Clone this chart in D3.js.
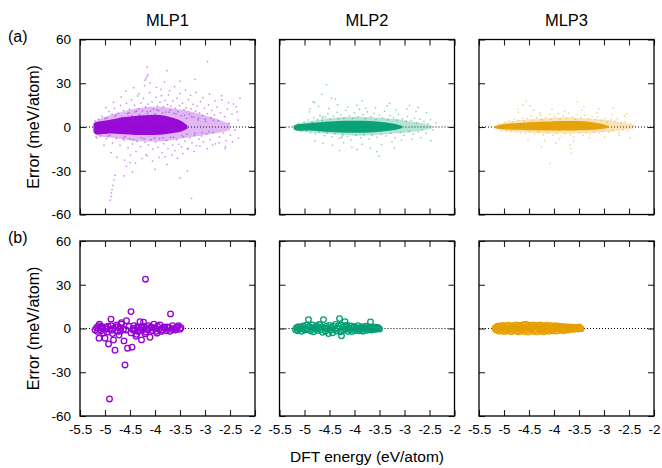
<!DOCTYPE html>
<html>
<head>
<meta charset="utf-8">
<script src="https://cdn.jsdelivr.net/npm/d3@7/dist/d3.min.js"></script>
<style>
  html, body { margin: 0; padding: 0; background: #fff; }
  svg { display: block; }
  text { font-family: "Liberation Sans", Arial, Helvetica, sans-serif; fill: #000; }
</style>
</head>
<body>
<svg id="chart" width="662" height="468"></svg>
<script>
// ---- data -------------------------------------------------------------
const models = ["MLP1", "MLP2", "MLP3"];
const colors = ["#9400D3", "#009E73", "#E69F00"];
const rowTags = ["(a)", "(b)"];
const xTicks = [-5.5, -5, -4.5, -4, -3.5, -3, -2.5, -2];
const yTicks = [-60, -30, 0, 30, 60];

// (a) training set: saturated core of the error cloud (energy, upper, lower)
const mlp1CoreE  = [-5.23, -5.2, -5.1, -4.95, -4.8, -4.6, -4.4, -4.2, -4.0, -3.8, -3.6, -3.45, -3.35];
const mlp1CoreHi = [2, 3.5, 4, 4.5, 5.5, 7, 7.5, 8, 8.5, 8, 6, 4, 1];
const mlp1CoreLo = [-3, -5.5, -5, -4.5, -4.5, -5, -5.5, -5.5, -5.5, -5, -4, -3, -1];
// (a) training set: medium-density halo around the core
const mlp1HaloE  = [-5.23, -5.1, -4.9, -4.7, -4.5, -4.3, -4.1, -3.9, -3.7, -3.5, -3.3, -3.1, -2.9, -2.7, -2.5];
const mlp1HaloHi = [3, 6, 8, 10, 12, 13, 14, 14, 13, 12, 11, 9, 7, 5, 2];
const mlp1HaloLo = [-4, -7, -7, -8, -9, -10, -10, -10, -9, -8, -7, -6, -5, -4, -2];

const mlp2CoreE  = [-5.22, -5.15, -5.05, -4.9, -4.75, -4.6, -4.4, -4.2, -4.0, -3.8, -3.6, -3.4, -3.2, -3.05];
const mlp2CoreHi = [0.8, 2.0, 2.3, 2.6, 3.0, 3.6, 4.0, 4.3, 4.4, 4.3, 4.0, 3.4, 2.4, 0.8];
const mlp2CoreLo = [-1.5, -2.8, -2.5, -2.4, -2.7, -3.2, -3.6, -3.9, -4.0, -3.9, -3.6, -3.0, -2.2, -0.8];
const mlp2HaloE  = [-5.2, -5.0, -4.8, -4.6, -4.4, -4.2, -4.0, -3.8, -3.6, -3.4, -3.2, -3.0, -2.8, -2.6, -2.45];
const mlp2HaloHi = [1, 3.5, 4.5, 5.5, 6.5, 7, 7, 7, 6.5, 6, 5.5, 4.5, 3.5, 2.5, 1];
const mlp2HaloLo = [-2, -3.5, -4, -4.5, -5, -5.5, -6, -6, -5.5, -5, -4.5, -4, -3, -2, -1];

const mlp3CoreE  = [-5.2, -5.1, -4.95, -4.8, -4.6, -4.4, -4.2, -4.0, -3.8, -3.6, -3.4, -3.2, -3.0, -2.9];
const mlp3CoreHi = [0.3, 1.5, 2.2, 2.6, 3.0, 3.4, 3.8, 4.0, 4.2, 4.2, 4.0, 3.2, 2.0, 0.5];
const mlp3CoreLo = [-0.5, -1.6, -1.8, -1.9, -2.0, -2.2, -2.4, -2.5, -2.5, -2.4, -2.3, -2.0, -1.2, -0.3];
const mlp3HaloE  = [-5.2, -5.0, -4.8, -4.6, -4.4, -4.2, -4.0, -3.8, -3.6, -3.4, -3.2, -3.0, -2.8, -2.6, -2.4];
const mlp3HaloHi = [0.5, 3, 4, 5, 5.5, 6, 6.5, 6.5, 6.5, 6, 5.5, 5, 4, 3, 1];
const mlp3HaloLo = [-1, -2.5, -3, -3.5, -4, -4.5, -4.5, -4.5, -4.5, -4, -4, -3.5, -3, -2, -1];

// (a) training set: individual points outside the core [energy, error]
const mlp1Dots = [
[-5.13,5.3],[-5.1,-6.2],[-5.06,7.4],[-4.97,-8.1],[-4.96,6.1],[-4.92,10.6],[-4.9,-5.7],[-4.86,8.8],[-4.85,-10.9],[-4.81,12.7],
[-4.8,7.2],[-4.77,-7.8],[-4.73,9.5],[-4.7,-12.6],[-4.69,14.8],[-4.66,6.9],[-4.63,11.3],[-4.62,-9.1],[-4.6,-6.6],[-4.57,16.2],
[-4.55,9.2],[-4.54,-14.3],[-4.51,12.1],[-4.5,-8.4],[-4.47,18.7],[-4.46,7.8],[-4.45,-11.7],[-4.41,14.9],[-4.4,10.4],[-4.38,-16.8],
[-4.36,-9.9],[-4.35,21.3],[-4.33,12.6],[-4.31,8.4],[-4.29,-13.5],[-4.28,16.4],[-4.27,-7.3],[-4.25,11.0],[-4.23,19.6],[-4.2,-10.6],
[-4.19,13.8],[-4.18,-18.9],[-4.15,9.1],[-4.14,15.7],[-4.13,-12.2],[-4.11,23.6],[-4.09,10.9],[-4.08,-8.7],[-4.06,17.2],[-4.04,-15.1],
[-4.03,12.3],[-4.0,8.8],[-3.99,-10.3],[-3.98,20.4],[-3.95,14.5],[-3.94,-13.9],[-3.93,11.2],[-3.91,-7.9],[-3.9,16.9],[-3.88,25.8],
[-3.86,-17.6],[-3.85,9.6],[-3.83,13.9],[-3.82,-11.5],[-3.8,18.3],[-3.79,10.2],[-3.77,-9.2],[-3.75,15.4],[-3.74,-14.8],[-3.73,22.1],
[-3.7,11.7],[-3.69,-7.1],[-3.68,14.1],[-3.65,-12.4],[-3.64,17.8],[-3.62,9.4],[-3.6,-16.2],[-3.59,12.9],[-3.57,-8.6],[-3.56,19.7],
[-3.54,10.5],[-3.52,-11.8],[-3.51,14.7],[-3.48,7.6],[-3.47,-13.6],[-3.45,16.3],[-3.43,-6.8],[-3.42,11.9],[-3.4,-9.7],[-3.38,13.2],
[-3.37,5.9],[-3.35,-15.3],[-3.33,18.8],[-3.31,8.7],[-3.3,-7.4],[-3.28,12.5],[-3.26,-10.9],[-3.24,15.6],[-3.23,6.7],[-3.21,-5.8],
[-3.19,10.8],[-3.17,-12.9],[-3.16,14.3],[-3.14,4.9],[-3.12,-8.3],[-3.11,9.7],[-3.09,17.4],[-3.07,-6.2],[-3.05,7.9],[-3.03,-10.1],
[-3.01,12.8],[-2.99,3.9],[-2.97,-4.7],[-2.95,9.1],[-2.93,15.2],[-2.9,-8.8],[-2.88,6.3],[-2.86,11.4],[-2.84,-3.6],[-2.81,8.2],
[-2.79,-11.6],[-2.76,13.7],[-2.74,4.4],[-2.71,-6.9],[-2.69,9.8],[-2.66,18.6],[-2.63,-4.2],[-2.61,7.1],[-2.58,-9.3],[-2.55,12.2],
[-2.52,2.6],[-2.49,-5.6],[-2.46,8.9],[-2.43,15.8],[-2.4,-2.1],[-2.36,10.3],[-2.33,-7.7],[-2.3,19.7],
[-5.02,-12.4],[-4.98,13.3],[-4.88,-17.6],[-4.83,16.9],[-4.76,-20.8],[-4.68,20.5],[-4.61,-22.7],[-4.58,24.6],[-4.49,-19.3],[-4.43,26.9],
[-4.39,-24.8],[-4.32,22.8],[-4.26,-21.6],[-4.21,28.3],[-4.16,-19.8],[-4.1,30.2],[-4.05,-23.4],[-3.97,27.1],[-3.92,-20.9],[-3.87,21.5],
[-3.81,30.8],[-3.76,-25.7],[-3.71,24.9],[-3.66,-19.1],[-3.61,27.6],[-3.55,-21.4],[-3.5,22.9],[-3.44,-18.2],[-3.39,25.3],[-3.34,-14.6],
[-3.29,21.8],[-3.22,-16.8],[-3.18,23.7],[-3.1,-13.2],[-3.04,20.1],[-2.96,-14.9],[-2.91,22.6],[-2.85,-12.3],[-2.8,17.9],[-2.72,-10.8],
[-2.67,21.4],[-2.59,-13.5],[-2.53,16.7],[-2.45,-10.2],[-2.38,13.9],[-2.34,4.8],
[-5.0,5.8],[-4.94,-6.3],[-4.78,8.6],[-4.64,-7.9],[-4.52,9.6],[-4.43,-8.8],[-4.37,10.9],[-4.22,-8.1],[-4.16,10.5],[-4.01,-7.7],
[-3.96,11.8],[-3.84,-7.4],[-3.72,10.1],[-3.63,-7.0],[-3.58,8.9],[-3.46,-5.9],[-3.41,8.1],[-3.36,-4.8],[-3.27,6.9],[-3.2,-4.4],
[-3.13,6.1],[-3.06,-3.8],[-3.0,5.4],[-2.92,-3.1],[-2.83,4.7],
[-4.18,33.2],[-4.16,34.6],[-4.14,35.8],[-4.2,32.1],[-4.16,41.0],[-3.76,38.6],[-2.95,44.8],[-3.5,31.4],[-3.2,32.6],[-4.45,-30.8],
[-4.9,-50.2],[-4.88,-47.6],[-4.87,-45.3],[-4.86,-42.9],[-4.84,-40.0],[-4.82,-36.4],[-4.8,-33.1],[-3.27,-49.0],[-3.5,-35.0],[-4.5,-24.4],
[-4.57,-27.0],[-3.8,-20.4],[-4.62,-33.5],[-3.35,-30.2],[-2.6,-14.8],[-4.0,-29.1],[-5.18,-6.6],[-5.16,-7.4],[-5.2,4.2]
];

const mlp2Dots = [
[-5.12,2.6],[-5.07,-3.1],[-5.01,3.5],[-4.96,-2.8],[-4.93,4.9],[-4.88,-3.9],[-4.85,3.2],[-4.81,6.3],[-4.78,-4.6],[-4.74,5.1],
[-4.71,-3.5],[-4.69,7.8],[-4.65,4.4],[-4.6,-5.9],[-4.58,6.7],[-4.55,-4.1],[-4.53,9.2],[-4.49,5.3],[-4.45,-6.8],[-4.42,7.4],
[-4.39,-4.7],[-4.35,10.1],[-4.33,5.6],[-4.3,-7.6],[-4.27,8.3],[-4.23,-5.2],[-4.21,6.1],[-4.17,11.4],[-4.14,-6.4],[-4.1,7.7],
[-4.07,-8.9],[-4.04,5.8],[-4.0,9.6],[-3.97,-5.5],[-3.93,6.9],[-3.9,12.2],[-3.88,-7.3],[-3.83,8.5],[-3.81,-5.1],[-3.78,5.7],
[-3.74,10.4],[-3.71,-8.1],[-3.67,7.1],[-3.65,-5.7],[-3.61,9.3],[-3.57,5.2],[-3.55,-7.0],[-3.5,8.0],[-3.47,-4.9],[-3.44,6.2],
[-3.4,10.8],[-3.37,-6.1],[-3.33,5.0],[-3.29,7.9],[-3.27,-4.3],[-3.22,6.4],[-3.19,-7.4],[-3.15,4.7],[-3.12,8.6],[-3.08,-3.7],
[-3.04,5.5],[-3.01,-5.6],[-2.97,3.9],[-2.94,7.2],[-2.9,-3.0],[-2.87,4.5],[-2.83,-4.9],[-2.8,6.1],[-2.76,2.8],[-2.72,-3.2],
[-2.69,5.3],[-2.65,-2.1],[-2.61,3.7],[-2.57,-4.4],[-2.53,2.3],[-2.48,4.9],[-2.43,-1.9],[-2.37,2.9],
[-4.89,12.4],[-4.79,-9.6],[-4.72,14.1],[-4.63,-11.2],[-4.51,12.7],[-4.44,-12.5],[-4.34,15.3],[-4.22,-10.7],[-4.13,13.6],[-4.05,-13.9],
[-3.95,14.8],[-3.85,-11.8],[-3.77,12.9],[-3.68,-14.6],[-3.58,13.2],[-3.46,-12.1],[-3.35,14.4],[-3.25,-10.3],[-3.17,11.7],[-3.06,-9.1],
[-2.95,12.5],[-2.85,-8.2],[-2.77,10.6],[-2.67,-7.3],[-2.56,9.8],[-2.47,-9.4],[-2.73,13.4],
[-4.56,29.0],[-4.83,17.3],[-4.8,16.8],[-4.46,19.7],[-4.38,19.2],[-4.65,22.4],[-3.51,-20.0],[-3.55,-16.9],[-3.95,-15.4],[-4.3,-16.1],
[-3.2,-14.3],[-4.9,10.4],[-3.85,17.9],[-3.3,16.2],[-2.9,14.7],[-4.26,-7.2],[-4.25,-6.1],[-4.64,6.1],[-4.63,7.0]
];

const mlp3Dots = [
[-5.11,2.2],[-5.05,-2.4],[-4.99,3.3],[-4.95,-2.7],[-4.9,4.1],[-4.86,-3.0],[-4.83,3.6],[-4.79,5.2],[-4.75,-3.4],[-4.72,4.6],
[-4.67,-3.9],[-4.63,6.1],[-4.6,3.9],[-4.57,-4.3],[-4.53,5.7],[-4.49,-3.6],[-4.46,7.3],[-4.43,4.5],[-4.39,-4.9],[-4.35,6.4],
[-4.31,-3.8],[-4.27,8.1],[-4.25,5.1],[-4.21,-5.4],[-4.17,6.7],[-4.13,-4.2],[-4.09,8.6],[-4.06,5.3],[-4.02,-5.8],[-3.99,7.2],
[-3.95,-4.5],[-3.91,9.1],[-3.88,5.6],[-3.85,-6.2],[-3.81,7.6],[-3.78,-4.8],[-3.75,6.1],[-3.71,9.4],[-3.67,-5.3],[-3.63,7.0],
[-3.6,-6.6],[-3.57,5.4],[-3.53,8.3],[-3.49,-4.4],[-3.46,6.6],[-3.42,-5.7],[-3.39,7.9],[-3.35,-3.9],[-3.31,5.8],[-3.28,-4.9],
[-3.24,7.2],[-3.2,-3.5],[-3.17,5.1],[-3.13,6.9],[-3.09,-4.2],[-3.05,4.6],[-3.02,-3.1],[-2.98,5.8],[-2.94,3.4],[-2.9,-3.6],
[-2.86,4.9],[-2.82,-2.3],[-2.78,3.8],[-2.74,5.6],[-2.7,-3.9],[-2.66,2.7],[-2.62,-1.7],[-2.58,3.5],[-2.53,-2.6],[-2.47,2.2],
[-2.41,1.2],
[-4.71,10.2],[-4.52,-8.6],[-4.41,11.4],[-4.19,-9.3],[-4.04,12.1],[-3.89,-8.2],[-3.79,10.7],[-3.61,-9.7],[-3.44,11.6],[-3.29,-7.4],
[-3.14,9.8],[-2.99,-6.9],[-2.84,8.7],[-2.69,-5.8],[-2.59,7.4],[-3.68,-12.3],[-4.28,9.6],[-3.96,-11.2],
[-4.56,17.8],[-4.48,14.6],[-3.53,17.3],[-3.4,13.8],[-4.08,-25.0],[-3.65,-18.0],[-3.66,-14.7],[-2.81,13.0],[-2.48,-7.6],[-4.72,12.4],
[-4.62,15.1],[-3.1,12.6],[-2.55,9.1],[-4.25,-13.8]
];

// (b) test set [energy, error]
const mlp1Test = [
[-5.2,-1],[-5.17,0.5],[-5.15,-2],[-5.13,2],[-5.12,-6.7],[-5.11,3],[-5.08,-1.5],[-5.06,0],[-5.05,1.2],[-5.03,-3],
[-5.0,-6.7],[-4.98,0.8],[-4.96,-2.5],[-4.94,1.5],[-4.93,-10.6],[-4.91,-48.3],[-4.9,-0.5],[-4.88,2],[-4.88,6.4],[-4.85,-3.5],
[-4.83,0],[-4.83,-7.9],[-4.8,-14.9],[-4.78,1],[-4.77,2.5],[-4.75,-2],[-4.72,-4.5],[-4.7,0.5],[-4.67,3],[-4.67,4],
[-4.62,-8.5],[-4.6,-25],[-4.58,-1],[-4.57,5.4],[-4.55,-13.5],[-4.52,1.5],[-4.48,11.6],[-4.48,-3],[-4.46,-12.8],[-4.44,0],
[-4.42,2],[-4.4,-1.5],[-4.38,-5.3],[-4.37,-4],[-4.35,1],[-4.33,-2],[-4.3,4.7],[-4.28,0.5],[-4.27,-7.8],[-4.25,-1],
[-4.23,4.4],[-4.22,1.5],[-4.19,33.8],[-4.18,-2.5],[-4.15,0],[-4.12,2],[-4.1,-6],[-4.08,1],[-4.05,-1.5],[-4.02,3],
[-4.0,0],[-3.98,-2],[-3.95,1.5],[-3.92,-0.5],[-3.9,2.5],[-3.87,-2],[-3.85,-1],[-3.82,1],[-3.8,0],[-3.77,-1.5],
[-3.75,1],[-3.72,0.5],[-3.69,10],[-3.67,-0.5],[-3.65,2],[-3.62,0],[-3.6,-1],[-3.57,0.5],[-3.55,1],[-3.53,2],
[-3.5,-0.5],[-3.48,0.5],[-4.44,-1],[-4.36,0.5],[-4.31,-1.2],[-4.26,1.1],[-4.14,-1],[-4.06,0.6],[-4.63,-0.6],[-4.69,-1.8],
[-4.74,1.2],[-4.86,-1.2],[-4.97,-0.3],[-5.09,1],[-4.2,-3.6],[-3.96,-3.2],[-3.7,-1.9],[-3.58,-0.8]
];

const mlp2Test = [
[-5.18,-0.8],[-5.16,0.6],[-5.14,-1.5],[-5.12,1.2],[-5.1,-0.3],[-5.08,0.9],[-5.06,-1.9],[-5.04,0.2],[-5.02,1.7],[-5.0,-1.1],
[-4.98,0.4],[-4.96,2.2],[-4.94,-0.7],[-4.92,6.1],[-4.9,1.3],[-4.88,-1.6],[-4.86,0.1],[-4.84,2.4],[-4.82,-2.2],[-4.8,0.8],
[-4.78,-0.4],[-4.76,1.9],[-4.74,-1.3],[-4.72,0.5],[-4.7,2.7],[-4.68,-0.9],[-4.66,1.1],[-4.64,-2.6],[-4.62,6.1],[-4.6,0.3],
[-4.58,-1.8],[-4.56,1.6],[-4.54,-0.2],[-4.52,-3.5],[-4.5,2.1],[-4.48,-1.2],[-4.46,0.7],[-4.44,-2.9],[-4.42,1.4],[-4.4,-0.6],
[-4.38,2.8],[-4.36,-1.7],[-4.34,0.2],[-4.32,1.8],[-4.3,6.8],[-4.28,-2.3],[-4.27,2.5],[-4.26,-5.0],[-4.24,0.9],[-4.22,-1.1],
[-4.2,1.5],[-4.19,4.7],[-4.17,-0.4],[-4.15,2.3],[-4.13,-1.9],[-4.11,0.6],[-4.09,-0.8],[-4.07,1.7],[-4.05,-2.1],[-4.03,0.3],
[-4.01,1.2],[-3.99,-1.4],[-3.97,0.8],[-3.95,-0.5],[-3.93,1.9],[-3.91,-1.6],[-3.89,0.4],[-3.87,-0.9],[-3.85,1.3],[-3.83,-1.8],
[-3.81,0.7],[-3.79,-0.3],[-3.77,1.6],[-3.75,-1.2],[-3.73,0.5],[-3.71,-0.7],[-3.69,1.1],[-3.68,4.5],[-3.66,-1.0],[-3.64,0.6],
[-3.62,-0.4],[-3.6,0.9],[-3.58,-0.6],[-3.56,0.3],[-3.54,0.8],[-3.52,0.2],[-3.5,-0.3]
];

const mlp3Test = [
[-5.18,0.2],[-5.16,-1.1],[-5.15,1.0],[-5.13,-0.4],[-5.12,1.6],[-5.1,-1.8],[-5.09,0.7],[-5.07,-0.9],[-5.06,1.9],[-5.04,-1.5],
[-5.03,0.3],[-5.01,2.1],[-5.0,-2.0],[-4.98,0.9],[-4.97,-0.6],[-4.95,1.7],[-4.94,-1.7],[-4.92,0.1],[-4.91,2.3],[-4.89,-1.2],
[-4.88,0.6],[-4.86,-2.2],[-4.85,1.4],[-4.83,-0.3],[-4.82,2.0],[-4.8,-1.6],[-4.79,0.8],[-4.77,-0.8],[-4.76,2.4],[-4.74,-1.9],
[-4.73,0.4],[-4.71,1.5],[-4.7,-2.3],[-4.68,0.0],[-4.67,2.2],[-4.65,-1.3],[-4.64,1.1],[-4.62,-0.5],[-4.61,2.6],[-4.59,-2.1],
[-4.58,0.7],[-4.56,3.0],[-4.55,-1.0],[-4.53,1.8],[-4.52,-2.4],[-4.5,0.3],[-4.49,2.3],[-4.47,-1.4],[-4.46,1.0],[-4.44,-0.2],
[-4.43,2.5],[-4.41,-2.0],[-4.4,0.6],[-4.38,1.6],[-4.37,-1.1],[-4.35,2.1],[-4.34,-2.3],[-4.32,0.2],[-4.31,1.4],[-4.29,-0.7],
[-4.28,2.4],[-4.26,-1.8],[-4.25,0.9],[-4.23,-0.3],[-4.22,1.9],[-4.2,-2.2],[-4.19,0.5],[-4.17,1.3],[-4.16,-1.2],[-4.14,2.2],
[-4.13,-0.6],[-4.11,0.8],[-4.1,-1.9],[-4.08,1.7],[-4.07,0.1],[-4.05,-1.0],[-4.04,2.0],[-4.02,-1.6],[-4.01,0.7],[-3.99,1.2],
[-3.98,-0.4],[-3.96,1.9],[-3.95,-1.7],[-3.93,0.4],[-3.92,1.1],[-3.9,-0.9],[-3.89,1.6],[-3.87,-1.3],[-3.86,0.2],[-3.84,1.4],
[-3.83,-0.7],[-3.81,0.9],[-3.8,-1.5],[-3.78,0.5],[-3.77,1.3],[-3.75,-0.3],[-3.74,0.8],[-3.72,-1.1],[-3.71,0.3],[-3.69,1.0],
[-3.68,-0.6],[-3.66,0.6],[-3.64,-0.2],[-3.62,0.9],[-3.6,-0.5],[-3.58,0.4],[-3.56,0.1],[-3.54,0.7],[-3.52,-0.3],[-3.5,1.0],
[-3.48,0.2],[-3.46,-0.1]
];

const cores = [
  { e: mlp1CoreE, hi: mlp1CoreHi, lo: mlp1CoreLo },
  { e: mlp2CoreE, hi: mlp2CoreHi, lo: mlp2CoreLo },
  { e: mlp3CoreE, hi: mlp3CoreHi, lo: mlp3CoreLo }
];
const halos = [
  { e: mlp1HaloE, hi: mlp1HaloHi, lo: mlp1HaloLo },
  { e: mlp2HaloE, hi: mlp2HaloHi, lo: mlp2HaloLo },
  { e: mlp3HaloE, hi: mlp3HaloHi, lo: mlp3HaloLo }
];
const trainDots = [mlp1Dots, mlp2Dots, mlp3Dots];
const testPts = [mlp1Test, mlp2Test, mlp3Test];

// ---- layout -----------------------------------------------------------
const svg = d3.select("#chart");
const panelW = 175, panelH = 175;
const colX = [80, 279.5, 479];
const rowY = [39.5, 241];
const fontStack = '"Liberation Sans", Arial, Helvetica, sans-serif';

const x = d3.scaleLinear().domain([-5.5, -2]).range([0, panelW]);
const y = d3.scaleLinear().domain([-60, 60]).range([panelH, 0]);

function drawFrame(g, row, col) {
  // inward ticks on all four sides
  const tick = 6;
  g.append("g").attr("transform", `translate(0,${panelH})`)
    .call(d3.axisBottom(x).tickValues(xTicks).tickSize(-tick).tickPadding(8)
      .tickFormat(row === 1 ? (d => String(d)) : ""));
  g.append("g")
    .call(d3.axisTop(x).tickValues(xTicks).tickSize(-tick).tickFormat(""));
  g.append("g")
    .call(d3.axisLeft(y).tickValues(yTicks).tickSize(-tick).tickPadding(9)
      .tickFormat(col === 0 ? (d => String(d)) : ""));
  g.append("g").attr("transform", `translate(${panelW},0)`)
    .call(d3.axisRight(y).tickValues(yTicks).tickSize(-tick).tickFormat(""));
  g.selectAll(".domain").remove();
  g.selectAll(".tick line").attr("stroke", "#222").attr("stroke-width", 1.1);
  g.selectAll(".tick text")
    .attr("font-family", fontStack).attr("font-size", 13.5).attr("fill", "#000");
  g.append("rect")
    .attr("width", panelW).attr("height", panelH)
    .attr("fill", "none").attr("stroke", "#000").attr("stroke-width", 1.3);
}

function zeroLine(g) {
  g.append("line")
    .attr("x1", x(-5.5)).attr("x2", x(-2))
    .attr("y1", y(0)).attr("y2", y(0))
    .attr("stroke", "#000").attr("stroke-width", 1)
    .attr("stroke-dasharray", "1,2");
}

function band(src) {
  const rows = src.e.map((e, i) => ({ e, hi: src.hi[i], lo: src.lo[i] }));
  return { rows, path: d3.area().curve(d3.curveBasis)
    .x(d => x(d.e)).y0(d => y(d.lo)).y1(d => y(d.hi)) };
}

models.forEach((name, col) => {
  // top row: training-set error cloud
  const gTop = svg.append("g").attr("transform", `translate(${colX[col]},${rowY[0]})`);
  zeroLine(gTop);
  const halo = band(halos[col]);
  gTop.append("path").datum(halo.rows).attr("d", halo.path)
    .attr("fill", colors[col]).attr("opacity", 0.28);
  gTop.append("g").selectAll("rect")
    .data(trainDots[col]).join("rect")
    .attr("x", d => x(d[0]) - 0.7).attr("y", d => y(d[1]) - 0.7)
    .attr("width", 1.4).attr("height", 1.4)
    .attr("fill", colors[col]).attr("opacity", 0.5);
  const core = band(cores[col]);
  gTop.append("path").datum(core.rows).attr("d", core.path)
    .attr("fill", colors[col]).attr("opacity", 0.95);
  drawFrame(gTop, 0, col);

  // bottom row: test-set errors
  const gBot = svg.append("g").attr("transform", `translate(${colX[col]},${rowY[1]})`);
  zeroLine(gBot);
  gBot.append("g").selectAll("circle")
    .data(testPts[col]).join("circle")
    .attr("cx", d => x(d[0])).attr("cy", d => y(d[1]))
    .attr("r", 2.8)
    .attr("fill", "none").attr("stroke", colors[col]).attr("stroke-width", 1.3);
  drawFrame(gBot, 1, col);

  // column title
  svg.append("text")
    .attr("x", colX[col] + panelW / 2).attr("y", 26)
    .attr("text-anchor", "middle").attr("font-size", 16.5)
    .text(name);
});

// row tags and y titles
rowY.forEach((ry, r) => {
  svg.append("text").attr("x", 8).attr("y", ry + 2)
    .attr("font-size", 16).text(rowTags[r]);
  svg.append("text")
    .attr("transform", `translate(33,${ry + panelH / 2}) rotate(-90)`)
    .attr("text-anchor", "middle").attr("dy", "0.35em")
    .attr("font-size", 16).text("Error (meV/atom)");
});

// x title
svg.append("text")
  .attr("x", colX[1] + panelW / 2).attr("y", 462)
  .attr("text-anchor", "middle").attr("font-size", 15.5)
  .text("DFT energy (eV/atom)");
</script>
</body>
</html>
